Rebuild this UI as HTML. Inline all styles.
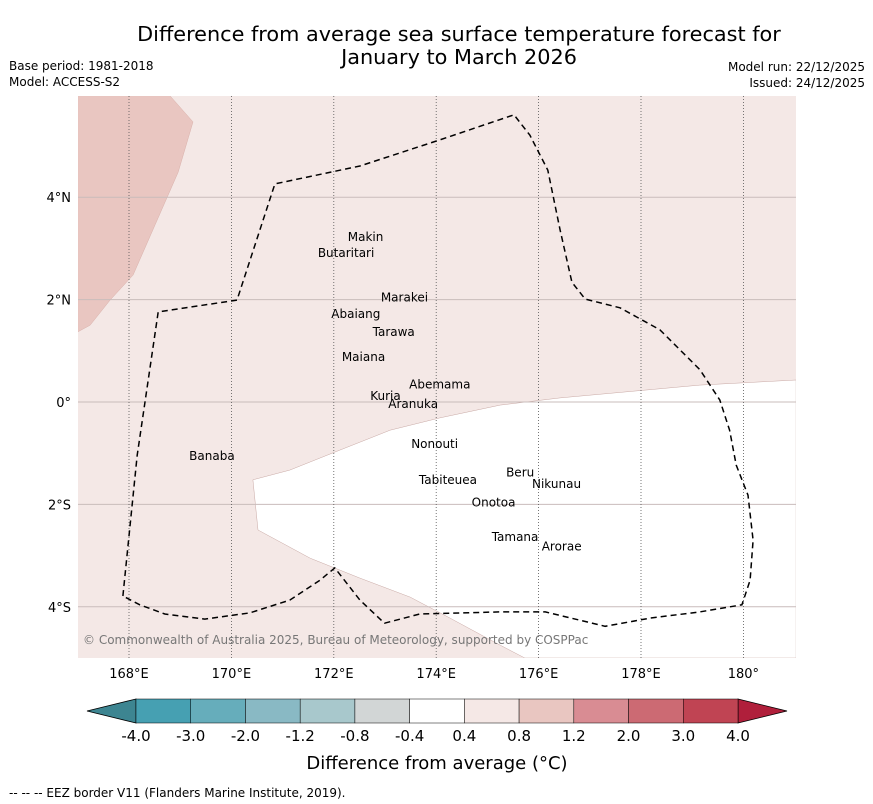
<!DOCTYPE html>
<html><head><meta charset="utf-8">
<style>
body{margin:0;background:#fff;}
svg{display:block;font-family:"DejaVu Sans","Liberation Sans",sans-serif;}
</style></head>
<body>
<svg id="chart" width="873" height="804" viewBox="0 0 873 804">
<rect width="873" height="804" fill="#fff"/>
<text x="459" y="41" font-size="20.8" text-anchor="middle">Difference from average sea surface temperature forecast for</text>
<text x="459" y="64" font-size="20.8" text-anchor="middle">January to March 2026</text>
<text x="9" y="70" font-size="12">Base period: 1981-2018</text>
<text x="9" y="86" font-size="12">Model: ACCESS-S2</text>
<text x="865" y="71" font-size="12" text-anchor="end">Model run: 22/12/2025</text>
<text x="865" y="87" font-size="12" text-anchor="end">Issued: 24/12/2025</text>
<g id="map"></g>
<g id="cbar"></g>
<text x="437" y="769" font-size="18" text-anchor="middle">Difference from average (°C)</text>
<text x="9" y="797" font-size="12">--  --  -- EEZ border V11 (Flanders Marine Institute, 2019).</text>
</svg>
<script>
const lonTicks=[168,170,172,174,176,178,180];
const lonLabels=["168°E","170°E","172°E","174°E","176°E","178°E","180°"];
const latTicks=[4,2,0,-2,-4];
const latLabels=["4°N","2°N","0°","2°S","4°S"];
const warmLon=[167.0,168.80,169.25,168.96,168.51,168.08,167.63,167.24,167.0];
const warmLat=[5.98,5.98,5.47,4.49,3.46,2.48,1.99,1.50,1.37];
const coolLon=[170.42,170.52,171.54,172.51,173.49,174.27,175.25,175.73,181.03,181.03,179.15,176.42,175.25,174.07,173.10,172.12,171.14];
const coolLat=[-1.52,-2.50,-3.05,-3.44,-3.81,-4.22,-4.75,-5.0,-5.0,0.43,0.33,0.08,-0.06,-0.31,-0.55,-0.94,-1.33];
const eezLon=[167.88,168.16,168.57,170.11,170.85,172.51,174.07,175.52,175.83,176.18,176.42,176.65,176.91,177.59,178.37,179.15,179.54,179.73,179.86,180.09,180.19,180.13,179.97,179.15,178.18,177.30,176.13,175.25,173.68,172.99,172.51,172.02,171.73,171.14,170.36,169.48,168.70,168.21,167.88];
const eezLat=[-3.79,-1.04,1.76,1.99,4.26,4.61,5.12,5.61,5.21,4.53,3.36,2.34,2.01,1.84,1.41,0.63,0.04,-0.55,-1.23,-1.82,-2.70,-3.48,-3.96,-4.10,-4.22,-4.38,-4.10,-4.10,-4.14,-4.32,-3.87,-3.24,-3.48,-3.87,-4.12,-4.24,-4.14,-3.96,-3.79];
const islandNames=["Makin","Butaritari","Marakei","Abaiang","Tarawa","Maiana","Abemama","Kuria","Aranuka","Nonouti","Banaba","Beru","Nikunau","Tabiteuea","Onotoa","Tamana","Arorae"];
const islandLon=[172.62,172.24,173.38,172.43,173.17,172.58,174.07,173.01,173.55,173.97,169.62,175.64,176.35,174.23,175.12,175.54,176.45];
const islandLat=[3.22,2.91,2.04,1.72,1.37,0.88,0.34,0.12,-0.04,-0.82,-1.05,-1.38,-1.60,-1.52,-1.96,-2.64,-2.82];
const cbarBounds=["-4.0","-3.0","-2.0","-1.2","-0.8","-0.4","0.4","0.8","1.2","2.0","3.0","4.0"];
const cbarColors=["#46a0b2","#66adbb","#89b9c4","#a8c8cc","#d2d6d6","#ffffff","#f5e8e6","#e9c6c1","#d98c93","#cc6a73","#c04453"];
const NS="http://www.w3.org/2000/svg";
const X0=78,X1=796,Y0=96,Y1=658;
const xs=lon=>129+(lon-168)*51.2;
const ys=lat=>402-lat*51.2;
function mk(tag,attrs,parent){const e=document.createElementNS(NS,tag);for(const k in attrs)e.setAttribute(k,attrs[k]);parent.appendChild(e);return e;}
function pts(lo,la){return lo.map((v,i)=>xs(v).toFixed(1)+","+ys(la[i]).toFixed(1)).join(" ");}
const map=document.getElementById('map');
const defs=mk('defs',{},map);
const cp=mk('clipPath',{id:'clip'},defs);
mk('rect',{x:X0,y:Y0,width:X1-X0,height:Y1-Y0},cp);
const g=mk('g',{'clip-path':'url(#clip)'},map);


const bg=mk('rect',{x:X0,y:Y0,width:X1-X0,height:Y1-Y0,fill:'#f4e8e6'},g);


const warm=mk('polygon',{points:pts(warmLon,warmLat),fill:'#e9c6c1',stroke:'#d8b0aa','stroke-width':0.5},g);


const cool=mk('polygon',{points:pts(coolLon,coolLat),fill:'#ffffff',stroke:'#c8a8a4','stroke-width':0.5},g);


latTicks.forEach((t,i)=>{
 const l=mk('line',{x1:X0,x2:X1,y1:ys(t),y2:ys(t),stroke:'#c9bcbb','stroke-width':1},g);
 
 
 const tx=mk('text',{x:71,y:ys(t)+5,'font-size':13,'text-anchor':'end'},map);
 tx.textContent=latLabels[i];
 
 
});
lonTicks.forEach((t,i)=>{
 const l=mk('line',{x1:xs(t),x2:xs(t),y1:Y0,y2:Y1,stroke:'#555','stroke-width':0.8,'stroke-dasharray':'1,2'},g);
 
 
 const tx=mk('text',{x:xs(t),y:678,'font-size':13,'text-anchor':'middle'},map);
 tx.textContent=lonLabels[i];
 
 
});
const eez=mk('polyline',{points:pts(eezLon,eezLat),fill:'none',stroke:'#000','stroke-width':1.5,'stroke-dasharray':'6,4'},g);


islandNames.forEach((n,i)=>{
 const t=mk('text',{x:xs(islandLon[i]),y:ys(islandLat[i])+4,'font-size':12,'text-anchor':'middle'},g);
 t.textContent=n;
 
 
});
const cr=mk('text',{x:83,y:644,'font-size':12,fill:'#777'},g);
cr.textContent="© Commonwealth of Australia 2025, Bureau of Meteorology, supported by COSPPac";


const cb=document.getElementById('cbar');
const C0=136,C1=738,CY0=699,CY1=723,n=cbarColors.length,w=(C1-C0)/n;
const le=mk('polygon',{points:`${C0},${CY0} ${C0},${CY1} 87,711`,fill:'#3d8591',stroke:'#000','stroke-width':0.8},cb);


const re=mk('polygon',{points:`${C1},${CY0} ${C1},${CY1} 787,711`,fill:'#b01f3b',stroke:'#000','stroke-width':0.8},cb);


cbarColors.forEach((c,i)=>{
 const r=mk('rect',{x:C0+i*w,y:CY0,width:w,height:CY1-CY0,fill:c,stroke:'#000','stroke-width':0.5},cb);
 
 
});
cbarBounds.forEach((b,i)=>{
 const t=mk('text',{x:C0+i*w,y:741,'font-size':15,'text-anchor':'middle'},cb);
 t.textContent=b;
 
 
});
</script>
</body></html>
